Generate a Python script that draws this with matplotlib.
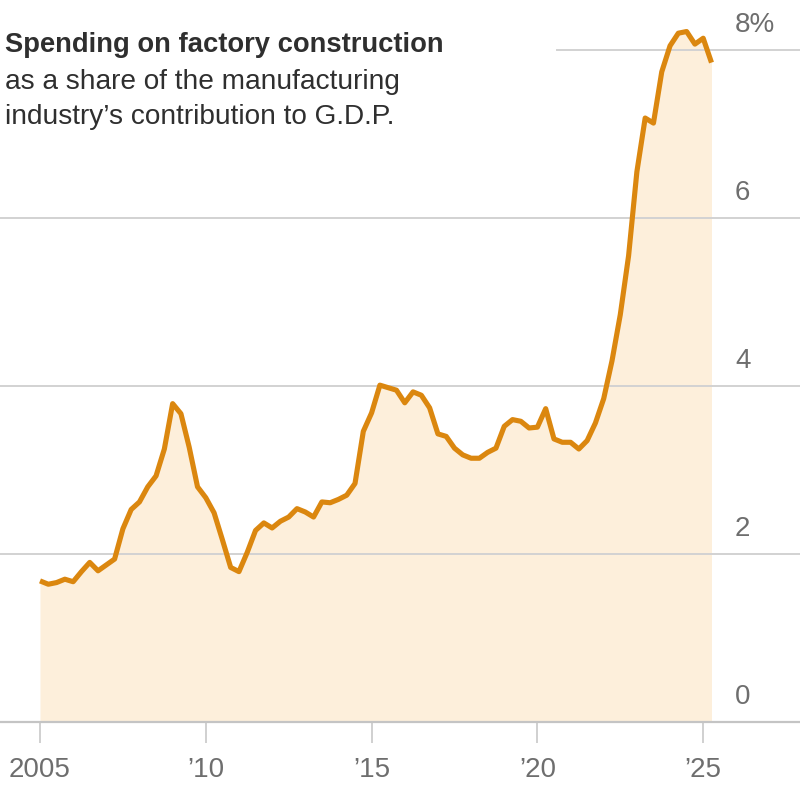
import matplotlib
matplotlib.use("Agg")
import matplotlib.pyplot as plt
import numpy as np

# Quarterly data, 2005 Q1 .. 2025 Q2
start_year = 2005
values = [
    1.68, 1.64, 1.66, 1.70, 1.67, 1.79, 1.90, 1.80, 1.87, 1.94,   # 2005-2007
    2.30, 2.53, 2.62, 2.80, 2.93, 3.25, 3.79, 3.67, 3.27, 2.80,   # 2007-2009
    2.67, 2.49, 2.17, 1.84, 1.79, 2.02, 2.28, 2.37, 2.31, 2.39,   # 2010-2012
    2.44, 2.54, 2.50, 2.44, 2.62, 2.61, 2.65, 2.70, 2.84, 3.46,   # 2012-2014
    3.68, 4.01, 3.98, 3.95, 3.80, 3.93, 3.89, 3.74, 3.43, 3.40,   # 2015-2017
    3.26, 3.18, 3.14, 3.14, 3.21, 3.26, 3.52, 3.60, 3.58, 3.50,   # 2017-2019
    3.51, 3.73, 3.37, 3.33, 3.33, 3.25, 3.35, 3.56, 3.85, 4.30,   # 2020-2022
    4.85, 5.55, 6.55, 7.19, 7.13, 7.74, 8.05, 8.20, 8.22, 8.07,   # 2022-2024
    8.14, 7.85,                                                   # 2025
]
years = start_year + np.arange(len(values)) / 4.0

x_ticks = [2005, 2010, 2015, 2020, 2025]
x_tick_labels = ["2005", "\u201910", "\u201915", "\u201920", "\u201925"]
y_ticks = [0, 2, 4, 6, 8]
y_tick_labels = ["0", "2", "4", "6", "8%"]

title = "Spending on factory construction"
subtitle = "as a share of the manufacturing\nindustry\u2019s contribution to G.D.P."

LINE = "#db870f"
FILL = "#fdefdb"
GRID = "#d2d2d2"
TXT = "#2f2f2f"
TICK = "#6e6e6e"

plt.rcParams["font.family"] = ["Liberation Sans", "DejaVu Sans"]

fig = plt.figure(figsize=(8, 8), dpi=100)
# axes: bottom of axes = baseline at y=722px, fills full width
ax = fig.add_axes([0, 78 / 800, 1, 722 / 800])
px_per_year = 33.16
x_left = 2005 - 40 / px_per_year
x_right = 2005 + 760 / px_per_year
ax.set_xlim(x_left, x_right)
ax.set_ylim(0, 722 / 84)

ax.fill_between(years, values, 0, color=FILL, lw=0, zorder=1)
for v in y_ticks[1:]:
    xmin = 557 / 800 if v == 8 else 0
    ax.axhline(v, xmin=xmin, xmax=1, color=GRID, lw=1.4, zorder=2)
ax.plot(years, values, color=LINE, lw=3.7, solid_joinstyle="round",
        solid_capstyle="butt", zorder=3)

for s in ["left", "right", "top"]:
    ax.spines[s].set_visible(False)
ax.spines["bottom"].set_color("#c4c4c4")
ax.spines["bottom"].set_linewidth(1.6)
ax.set_yticks([])
ax.set_xticks(x_ticks)
ax.set_xticklabels(x_tick_labels)
ax.tick_params(axis="x", direction="out", length=15, width=1.2, color="#c8c8c8",
               pad=10, labelsize=20, labelcolor=TICK)

label_x = 2005 + (735 - 40) / px_per_year
for v, lab in zip(y_ticks, y_tick_labels):
    ax.annotate(lab, xy=(label_x, v), xytext=(0, 9), textcoords="offset points",
                ha="left", va="bottom", fontsize=20, color=TICK, zorder=4)

fig.text(5 / 800, 1 - 52 / 800, title, fontsize=19.7, fontweight="bold",
         color=TXT, ha="left", va="baseline")
fig.text(5 / 800, 1 - 89 / 800, subtitle.split("\n")[0], fontsize=20.2,
         color=TXT, ha="left", va="baseline")
fig.text(5 / 800, 1 - 124 / 800, subtitle.split("\n")[1], fontsize=20.2,
         color=TXT, ha="left", va="baseline")

fig.savefig("out.png", dpi=100)
